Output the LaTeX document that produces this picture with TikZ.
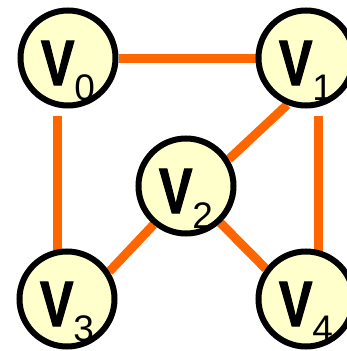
\documentclass[tikz,border=0pt]{standalone}
\usepackage{fontspec}
\setmainfont{Liberation Sans}
\newfontfamily\vfont[FakeBold=2]{Liberation Sans}
\usetikzlibrary{backgrounds}
\definecolor{edgeor}{HTML}{FF6600}
\definecolor{nodefill}{HTML}{FFFFCC}
\newcommand{\vlab}[1]{\raisebox{-27pt}[0pt][0pt]{\fontsize{64}{64}\vfont\bfseries\selectfont\scalebox{0.78}[1]{V}\raisebox{-15pt}{\fontsize{37}{37}\normalfont\selectfont#1}}}
\begin{document}
\begin{tikzpicture}[x=1pt,y=-1pt,
  vert/.style={circle, draw=black, line width=6pt, fill=nodefill, minimum size=95pt, inner sep=0pt},
  edge/.style={draw=edgeor, line width=9pt}]
\useasboundingbox (0,0) rectangle (347,351);
\clip (0,0) rectangle (347,351);
\node[vert] (v0) at (68,58) {\vlab{0}};
\node[vert] (v1) at (306,58) {\vlab{1}};
\node[vert] (v2) at (186,186) {\vlab{2}};
\node[vert] (v3) at (67,299) {\vlab{3}};
\node[vert] (v4) at (306,299) {\vlab{4}};
\begin{scope}[on background layer]
\draw[edge] (v0) -- (v1);
\draw[edge] ([xshift=-11pt,yshift=-7pt]v0.south) -- ([xshift=-10pt,yshift=-10pt]v3.north);
\draw[edge] ([xshift=12pt,yshift=-7pt]v1.south) -- ([xshift=12pt,yshift=-10pt]v4.north);
\draw[edge] (v1.248) -- (v2.32);
\draw[edge] (v2.230) -- (v3.33);
\draw[edge] (v2.313) -- (v4.143);
\end{scope}
\end{tikzpicture}
\end{document}
